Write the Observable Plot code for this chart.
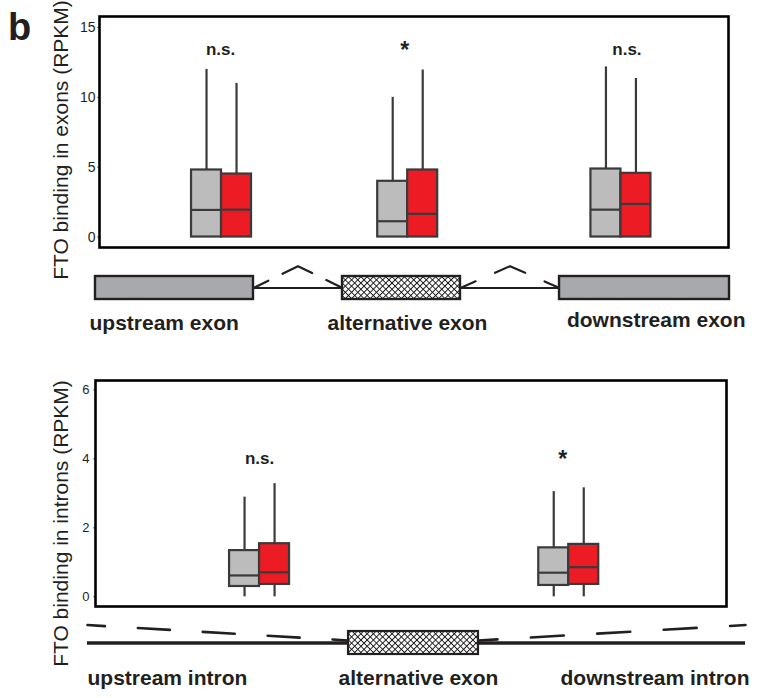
<!DOCTYPE html>
<html>
<head>
<meta charset="utf-8">
<script src="https://cdn.jsdelivr.net/npm/d3@7"></script>
<script src="https://cdn.jsdelivr.net/npm/@observablehq/plot@0.6"></script>
<style>
  html, body { margin: 0; padding: 0; background: #fff; }
  #fig { position: relative; width: 763px; height: 698px; overflow: hidden;
         font-family: "Liberation Sans", Arial, Helvetica, sans-serif; color: #231f20; }
  #fig svg { position: absolute; left: 0; }
  .panel-letter { position: absolute; left: 8px; top: 8px; font-size: 38px; font-weight: bold; line-height: 1; }
</style>
</head>
<body>
<div id="fig"><div class="panel-letter">b</div></div>
<script>
// ---------------------------------------------------------------
// Data: FTO binding (RPKM) around alternative exons.
// Box statistics per position: whisker low, Q1, median, Q3, whisker high.
// "control" = grey boxes, "FTO" = red boxes.
// ---------------------------------------------------------------
const exonGroups = ["upstream exon", "alternative exon", "downstream exon"];
const exonSig = ["n.s.", "*", "n.s."];
const exonCtrlLow = [0, 0, 0];
const exonCtrlQ1 = [0, 0, 0];
const exonCtrlMedian = [1.94, 1.13, 1.96];
const exonCtrlQ3 = [4.8, 3.99, 4.87];
const exonCtrlHigh = [12.0, 10.0, 12.18];
const exonFtoLow = [0, 0, 0];
const exonFtoQ1 = [0, 0, 0];
const exonFtoMedian = [1.96, 1.66, 2.37];
const exonFtoQ3 = [4.51, 4.8, 4.56];
const exonFtoHigh = [11.0, 11.96, 11.35];
const exonTicks = [0, 5, 10, 15];

const intronGroups = ["upstream intron", "downstream intron"];
const intronSig = ["n.s.", "*"];
const intronCtrlLow = [0, 0];
const intronCtrlQ1 = [0.30, 0.33];
const intronCtrlMedian = [0.62, 0.70];
const intronCtrlQ3 = [1.34, 1.42];
const intronCtrlHigh = [2.89, 3.05];
const intronFtoLow = [0, 0];
const intronFtoQ1 = [0.36, 0.36];
const intronFtoMedian = [0.71, 0.86];
const intronFtoQ3 = [1.54, 1.52];
const intronFtoHigh = [3.28, 3.16];
const intronTicks = [0, 2, 4, 6];

// Gene-model schematics (schematic units 0–100 along the drawn segment)
const exonModelNames = ["upstream exon", "alternative exon", "downstream exon"];
const exonModelStart = [0, 38.96, 73.19];
const exonModelEnd = [24.92, 57.57, 100];

const intronModelNames = ["upstream intron", "alternative exon", "downstream intron"];
const intronModelStart = [0, 39.67, 59.42];
const intronModelEnd = [39.67, 59.42, 100];

// ---------------------------------------------------------------
// Layout and styling
// ---------------------------------------------------------------
const W = 763;
const TEXT = "#231f20";
const INK = "#3a3a3a";
const GREY = "#bcbcbc";
const RED = "#ed1c24";
const EXON_FILL = "#a7a9ac";
const BOX_W = 30;            // px width of each box
const FONT = "'Liberation Sans', Arial, Helvetica, sans-serif";
const exonSlots = [0.194, 0.49, 0.829];   // group centres as fraction of the frame width
const intronSlots = [0.26, 0.75];
const exonSigShift = [-1, -3, 6];         // px nudges of the significance marks
const intronSigShift = [0, -6];

function boxRows(groups, series, low, q1, median, q3, high) {
  return groups.map((group, i) => ({group, series, low: low[i], q1: q1[i], median: median[i], q3: q3[i], high: high[i]}));
}

function placeSvg(svg, top) {
  svg.style.top = top + "px";
  document.getElementById("fig").appendChild(svg);
}

function boxPanel(cfg) {
  const pos = new Map(cfg.groups.map((g, i) => [g, cfg.slots[i]]));
  const X = d => pos.get(d.group);
  const frameW = W - cfg.marginLeft - cfg.marginRight;
  const sigRows = cfg.groups.map((g, i) => ({group: g, mark: cfg.sig[i], shift: cfg.sigShift[i]}));
  const SX = d => pos.get(d.group) + d.shift / frameW;
  const marks = [
    Plot.axisY({ticks: cfg.ticks, tickFormat: "d", tickSize: 2, tickPadding: cfg.tickPadding, fontSize: cfg.tickFontSize,
                label: null, stroke: "#777", fill: TEXT})
  ];
  for (const [series, fill, side] of [["control", GREY, -1], ["FTO", RED, 1]]) {
    const data = cfg.rows.filter(d => d.series === series);
    const widen = side < 0 ? {insetLeft: -BOX_W} : {insetRight: -BOX_W};
    const dx = side * BOX_W / 2;
    marks.push(
      Plot.ruleX(data, {x: X, y1: "q3", y2: "high", dx, stroke: INK, strokeWidth: 2.2}),
      Plot.ruleX(data, {x: X, y1: "low", y2: "q1", dx, stroke: INK, strokeWidth: 2.2}),
      Plot.rect(data, {x1: X, x2: X, y1: "q1", y2: "q3", fill, stroke: INK, strokeWidth: 2.2, ...widen}),
      Plot.ruleY(data, {y: "median", x1: X, x2: X, stroke: INK, strokeWidth: 2.2, ...widen})
    );
  }
  marks.push(
    Plot.text(sigRows.filter(d => d.mark !== "*"), {x: SX, text: "mark", frameAnchor: "top", dy: cfg.sigDy,
      textAnchor: "middle", lineAnchor: "bottom", fontSize: 17, fontWeight: "bold", fill: TEXT}),
    Plot.text(sigRows.filter(d => d.mark === "*"), {x: SX, text: "mark", frameAnchor: "top", dy: cfg.starDy,
      textAnchor: "middle", lineAnchor: "bottom", fontSize: 23, fontWeight: "bold", fill: TEXT}),
    Plot.text([cfg.label], {frameAnchor: "left", dx: cfg.labelDx, dy: cfg.labelDy, rotate: -90,
      textAnchor: "middle", lineAnchor: "middle", fontSize: cfg.labelSize, fill: TEXT}),
    Plot.frame({stroke: "#000", strokeWidth: 2.6})
  );
  return Plot.plot({
    width: W, height: cfg.height,
    marginTop: cfg.marginTop, marginBottom: cfg.marginBottom, marginLeft: cfg.marginLeft, marginRight: cfg.marginRight,
    x: {domain: [0, 1], axis: null},
    y: {domain: cfg.yDomain},
    style: {overflow: "visible", background: "transparent", fontFamily: FONT, color: TEXT},
    marks
  });
}

// Cross-hatch fill for the alternative exon
function hatchDefs(id) {
  return () => {
    const ns = "http://www.w3.org/2000/svg";
    const defs = document.createElementNS(ns, "defs");
    const p = document.createElementNS(ns, "pattern");
    p.setAttribute("id", id);
    p.setAttribute("patternUnits", "userSpaceOnUse");
    p.setAttribute("width", "4.4");
    p.setAttribute("height", "4.4");
    p.setAttribute("patternTransform", "rotate(45)");
    const bg = document.createElementNS(ns, "rect");
    bg.setAttribute("width", "4.4"); bg.setAttribute("height", "4.4"); bg.setAttribute("fill", "#fff");
    const path = document.createElementNS(ns, "path");
    path.setAttribute("d", "M0,2.2H4.4M2.2,0V4.4");
    path.setAttribute("stroke", "#1a1a1a");
    path.setAttribute("stroke-width", "1");
    p.appendChild(bg); p.appendChild(path); defs.appendChild(p);
    return defs;
  };
}

// ---------------------------------------------------------------
// Top panel: exons
// ---------------------------------------------------------------
const exonRows = [
  ...boxRows(exonGroups, "control", exonCtrlLow, exonCtrlQ1, exonCtrlMedian, exonCtrlQ3, exonCtrlHigh),
  ...boxRows(exonGroups, "FTO", exonFtoLow, exonFtoQ1, exonFtoMedian, exonFtoQ3, exonFtoHigh)
];
placeSvg(boxPanel({
  groups: exonGroups, rows: exonRows, sig: exonSig, sigShift: exonSigShift, slots: exonSlots, ticks: exonTicks,
  yDomain: [-0.75, 15.79], height: 250, marginTop: 16, marginBottom: 3, marginLeft: 99, marginRight: 35,
  tickFontSize: 14, tickPadding: 2, sigDy: 38, starDy: 41,
  label: "FTO binding in exons (RPKM)", labelDx: -38, labelDy: 8, labelSize: 21
}), 0);

// Exon schematic
const exonModel = exonModelNames.map((name, i) => ({name, start: exonModelStart[i], end: exonModelEnd[i]}));
const exonIntrons = exonModel.slice(1).map((e, i) => ({id: i, start: exonModel[i].end, end: e.start}));
const SPLICE_RISE = 0.95; // height of the splice junction carets, in frame units
const caretPts = exonIntrons.flatMap(d => [
  {id: d.id, x: d.start, y: 0.5},
  {id: d.id, x: (d.start + d.end) / 2, y: 0.5 + SPLICE_RISE},
  {id: d.id, x: d.end, y: 0.5}
]);
const exonLabelStyle = [
  {textAnchor: "start", at: d => d.start, dx: -6, dy: 30},
  {textAnchor: "middle", at: d => (d.start + d.end) / 2, dx: 6, dy: 30},
  {textAnchor: "end", at: d => d.end, dx: 16, dy: 27}
];
placeSvg(Plot.plot({
  width: W, height: 90, marginTop: 21, marginBottom: 46, marginLeft: 95, marginRight: 34,
  x: {domain: [0, 100], axis: null}, y: {domain: [0, 1], axis: null},
  style: {overflow: "visible", background: "transparent", fontFamily: FONT, color: TEXT},
  marks: [
    hatchDefs("xhatch-top"),
    Plot.ruleY(exonIntrons, {x1: "start", x2: "end", y: 0.5, stroke: TEXT, strokeWidth: 2}),
    Plot.line(caretPts.filter(d => d.id === 0), {x: "x", y: "y", stroke: TEXT, strokeWidth: 2.2,
      strokeDasharray: "33,15.8", strokeDashoffset: 16.5, strokeLinejoin: "miter"}),
    Plot.line(caretPts.filter(d => d.id === 1), {x: "x", y: "y", stroke: TEXT, strokeWidth: 2.2,
      strokeDasharray: "33,21.2", strokeDashoffset: 16.5, strokeLinejoin: "miter"}),
    Plot.rect(exonModel.filter(d => d.name !== "alternative exon"), {x1: "start", x2: "end", fill: EXON_FILL, stroke: TEXT, strokeWidth: 2.4}),
    Plot.rect(exonModel.filter(d => d.name === "alternative exon"), {x1: "start", x2: "end", fill: "url(#xhatch-top)", stroke: TEXT, strokeWidth: 2.4}),
    ...exonModel.map((d, i) => Plot.text([d], {x: exonLabelStyle[i].at, text: "name", frameAnchor: "bottom",
      dx: exonLabelStyle[i].dx, dy: exonLabelStyle[i].dy, textAnchor: exonLabelStyle[i].textAnchor,
      lineAnchor: "bottom", fontSize: 21, fontWeight: "bold", fill: TEXT}))
  ]
}), 255);

// ---------------------------------------------------------------
// Bottom panel: introns
// ---------------------------------------------------------------
const intronRows = [
  ...boxRows(intronGroups, "control", intronCtrlLow, intronCtrlQ1, intronCtrlMedian, intronCtrlQ3, intronCtrlHigh),
  ...boxRows(intronGroups, "FTO", intronFtoLow, intronFtoQ1, intronFtoMedian, intronFtoQ3, intronFtoHigh)
];
placeSvg(boxPanel({
  groups: intronGroups, rows: intronRows, sig: intronSig, sigShift: intronSigShift, slots: intronSlots, ticks: intronTicks,
  yDomain: [-0.28, 6.27], height: 240, marginTop: 10, marginBottom: 4, marginLeft: 95, marginRight: 37,
  tickFontSize: 13, tickPadding: 4, sigDy: 83, starDy: 86,
  label: "FTO binding in introns (RPKM)", labelDx: -34, labelDy: 30, labelSize: 21
}), 370);

// Intron schematic
const intronModel = intronModelNames.map((name, i) => ({name, start: intronModelStart[i], end: intronModelEnd[i]}));
const altExon = intronModel[1];
const SKIP_NEAR = 0.61, SKIP_FAR = 1.28; // dashed exclusion path heights, in frame units
const skipLeft = [{x: altExon.start, y: SKIP_NEAR}, {x: intronModel[0].start, y: SKIP_FAR}];
const skipRight = [{x: altExon.end, y: SKIP_NEAR}, {x: intronModel[2].end, y: SKIP_FAR}];
const intronLabelStyle = [
  {textAnchor: "start", at: d => d.start, dx: 0},
  {textAnchor: "middle", at: d => (d.start + d.end) / 2, dx: 5},
  {textAnchor: "end", at: d => d.end, dx: 4}
];
placeSvg(Plot.plot({
  width: W, height: 86, marginTop: 19, marginBottom: 44, marginLeft: 87, marginRight: 18,
  x: {domain: [0, 100], axis: null}, y: {domain: [0, 1], axis: null},
  style: {overflow: "visible", background: "transparent", fontFamily: FONT, color: TEXT},
  marks: [
    hatchDefs("xhatch-bottom"),
    Plot.ruleY([intronModel[0], intronModel[2]], {x1: "start", x2: "end", y: 0.5, stroke: TEXT, strokeWidth: 3.3}),
    Plot.line(skipLeft, {x: "x", y: "y", stroke: TEXT, strokeWidth: 2.6, strokeDasharray: "32,33", strokeDashoffset: 16}),
    Plot.line(skipRight, {x: "x", y: "y", stroke: TEXT, strokeWidth: 2.6, strokeDasharray: "33,33.5", strokeDashoffset: 14}),
    Plot.rect([altExon], {x1: "start", x2: "end", fill: "url(#xhatch-bottom)", stroke: TEXT, strokeWidth: 2.2}),
    ...intronModel.map((d, i) => Plot.text([d], {x: intronLabelStyle[i].at, text: "name", frameAnchor: "bottom",
      dx: intronLabelStyle[i].dx, dy: 30, textAnchor: intronLabelStyle[i].textAnchor,
      lineAnchor: "bottom", fontSize: 21, fontWeight: "bold", fill: TEXT}))
  ]
}), 612);
</script>
</body>
</html>
